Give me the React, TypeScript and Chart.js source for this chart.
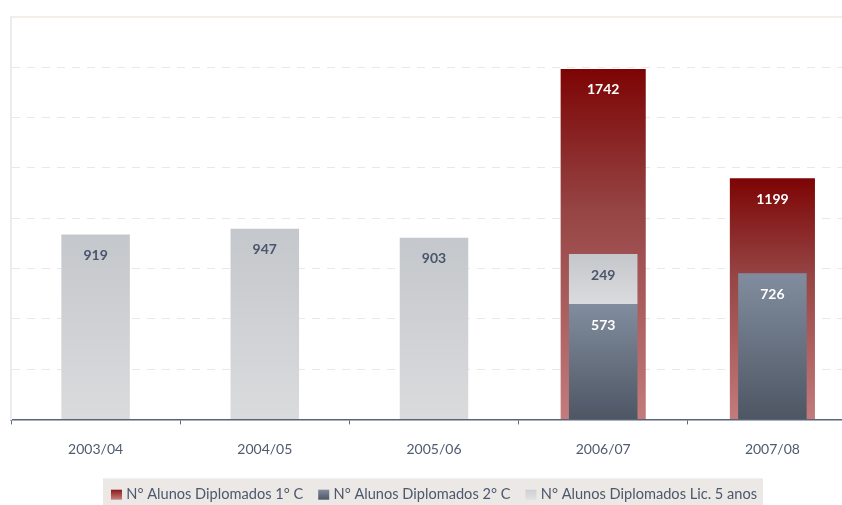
import React, { useEffect, useRef } from 'react';
import { Chart, registerables } from 'chart.js';

Chart.register(...registerables);

// ---- data ----
const categories = ['2003/04', '2004/05', '2005/06', '2006/07', '2007/08'];
const diplomados1C: (number | null)[] = [null, null, null, 1742, 1199];
const diplomados2C: (number | null)[] = [null, null, null, 573, 726];
const diplomadosLic5: (number | null)[] = [919, 947, 903, 249, null];
const seriesLabels = [
  'N° Alunos Diplomados 1° C',
  'N° Alunos Diplomados 2° C',
  'N° Alunos Diplomados Lic. 5 anos',
];
const yMin = 0;
const yMax = 2000;
const yStep = 250;

// ---- styles ----
const FONT = 'Lato, "Open Sans", sans-serif';
const redStops: [number, string][] = [[0, '#7d0404'], [0.4, '#964444'], [1, '#c37b7b']];
const blueStops: [number, string][] = [[0, '#818d9e'], [1, '#4e5664']];
const grayStops: [number, string][] = [[0, '#c4c7cb'], [1, '#dadbdd']];
const swatchStops = [
  [[0, '#861818'], [1, '#c98080']],
  [[0, '#808b9b'], [1, '#4e5664']],
  [[0, '#cdd0d3'], [1, '#e0e1e3']],
] as [number, string][][];

function barGradient(stops: [number, string][]) {
  return (ctx: any) => {
    const chart = ctx.chart;
    if (ctx.type !== 'data' || !chart.chartArea || !chart.scales.y) return stops[0][1];
    const raw = ctx.raw;
    if (raw == null) return 'rgba(0,0,0,0)';
    const lo = Array.isArray(raw) ? raw[0] : 0;
    const hi = Array.isArray(raw) ? raw[1] : raw;
    const ys = chart.scales.y;
    const top = ys.getPixelForValue(hi);
    const bot = ys.getPixelForValue(lo);
    if (!isFinite(top) || !isFinite(bot) || top === bot) return stops[0][1];
    const g = chart.ctx.createLinearGradient(0, top, 0, bot);
    stops.forEach(([o, c]) => g.addColorStop(o, c));
    return g;
  };
}

const valueLabelPlugin = {
  id: 'valueLabels',
  afterDatasetsDraw(chart: any) {
    const ctx = chart.ctx;
    const sources = [diplomados1C, diplomados2C, diplomadosLic5];
    const colors = ['#ffffff', '#ffffff', '#4a566c'];
    ctx.save();
    ctx.font = `bold 14px ${FONT}`;
    ctx.textAlign = 'center';
    ctx.textBaseline = 'middle';
    chart.data.datasets.forEach((_ds: any, di: number) => {
      const meta = chart.getDatasetMeta(di);
      meta.data.forEach((el: any, i: number) => {
        const v = sources[di][i];
        if (v == null) return;
        const top = Math.min(el.y, el.base);
        ctx.fillStyle = colors[di];
        ctx.fillText(String(v), el.x, top + 21);
      });
    });
    ctx.restore();
  },
};

const decorPlugin = {
  id: 'decor',
  beforeDraw(chart: any) {
    const ctx = chart.ctx;
    const legend = chart.legend;
    if (!legend || !legend.legendHitBoxes || !legend.legendHitBoxes.length) return;
    const hb = legend.legendHitBoxes;
    const first = hb[0];
    const last = hb[hb.length - 1];
    ctx.save();
    ctx.fillStyle = '#ebe8e5';
    const x0 = first.left - 8;
    const x1 = last.left + last.width + 6;
    const y0 = first.top - 9;
    ctx.fillRect(x0, y0, x1 - x0, chart.height - y0);
    hb.forEach((b: any, i: number) => {
      const sy = b.top + (b.height - 10) / 2;
      const g = ctx.createLinearGradient(0, sy, 0, sy + 10);
      swatchStops[i].forEach(([o, c]) => g.addColorStop(o, c));
      ctx.fillStyle = g;
      ctx.fillRect(b.left, sy, 11, 10);
    });
    ctx.restore();
  },
  beforeDatasetsDraw(chart: any) {
    const { ctx, chartArea } = chart;
    ctx.save();
    ctx.strokeStyle = '#efe9e1';
    ctx.lineWidth = 1.5;
    ctx.beginPath();
    ctx.moveTo(chartArea.left, chartArea.top);
    ctx.lineTo(chartArea.right, chartArea.top);
    ctx.stroke();
    ctx.restore();
  },
};

export default function App() {
  const ref = useRef<HTMLCanvasElement | null>(null);

  useEffect(() => {
    if (!ref.current) return;
    const lic5Floating = diplomadosLic5.map((v, i) => {
      if (v == null) return null;
      const base = diplomados2C[i] ?? 0;
      return [base, base + v];
    });

    const chart = new Chart(ref.current, {
      type: 'bar',
      data: {
        labels: categories,
        datasets: [
          {
            label: seriesLabels[0],
            data: diplomados1C as any,
            backgroundColor: barGradient(redStops),
            barPercentage: 0.503,
            categoryPercentage: 1,
            order: 1,
          },
          {
            label: seriesLabels[1],
            data: diplomados2C as any,
            backgroundColor: barGradient(blueStops),
            barPercentage: 0.405,
            categoryPercentage: 1,
            order: 0,
          },
          {
            label: seriesLabels[2],
            data: lic5Floating as any,
            backgroundColor: barGradient(grayStops),
            barPercentage: 0.405,
            categoryPercentage: 1,
            order: 0,
          },
        ],
      },
      options: {
        responsive: false,
        animation: false,
        devicePixelRatio: 1,
        layout: { padding: { left: 11, right: 3, top: 17, bottom: 0 } },
        plugins: {
          tooltip: { enabled: false },
          legend: {
            position: 'bottom',
            labels: {
              boxWidth: 8,
              boxHeight: 10,
              padding: 15,
              color: '#4c586e',
              font: { family: FONT, size: 14.6 },
              sort: (a: any, b: any) => a.datasetIndex - b.datasetIndex,
              generateLabels: (c: any) => {
                const items = (Chart.defaults.plugins.legend.labels as any).generateLabels(c);
                return items.map((it: any) => ({
                  ...it,
                  fillStyle: 'rgba(0,0,0,0)',
                  strokeStyle: 'rgba(0,0,0,0)',
                  lineWidth: 0,
                }));
              },
            },
          },
        },
        scales: {
          x: {
            stacked: true,
            offset: true,
            z: 1,
            grid: {
              offset: true,
              drawOnChartArea: false,
              drawTicks: true,
              tickLength: 5,
              color: '#5d6b80',
              tickColor: '#5d6b80',
            },
            border: { display: true, color: '#56657a', width: 1.5 },
            ticks: { color: '#4f5b6e', font: { family: FONT, size: 14 }, padding: 17 },
            afterFit: (s: any) => {
              s.height = 53;
            },
          },
          y: {
            stacked: false,
            min: yMin,
            max: yMax,
            ticks: { display: false, stepSize: yStep },
            grid: {
              drawTicks: false,
              lineWidth: 1,
              color: (c: any) =>
                c.tick && (c.tick.value === yMax || c.tick.value === yMin) ? 'rgba(0,0,0,0)' : '#e8e8e8',
            },
            border: { display: true, color: '#ececec', width: 2, dash: [8, 7] },
            afterFit: (s: any) => {
              s.width = 0;
            },
          },
        },
      },
      plugins: [decorPlugin, valueLabelPlugin],
    } as any);

    return () => chart.destroy();
  }, []);

  return (
    <div
      style={{
        position: 'fixed',
        left: 0,
        top: 0,
        width: 842,
        height: 505,
        overflow: 'hidden',
        background: '#ffffff',
      }}
    >
      <canvas ref={ref} width={860} height={512} style={{ display: 'block', width: 860, height: 512 }} />
    </div>
  );
}
